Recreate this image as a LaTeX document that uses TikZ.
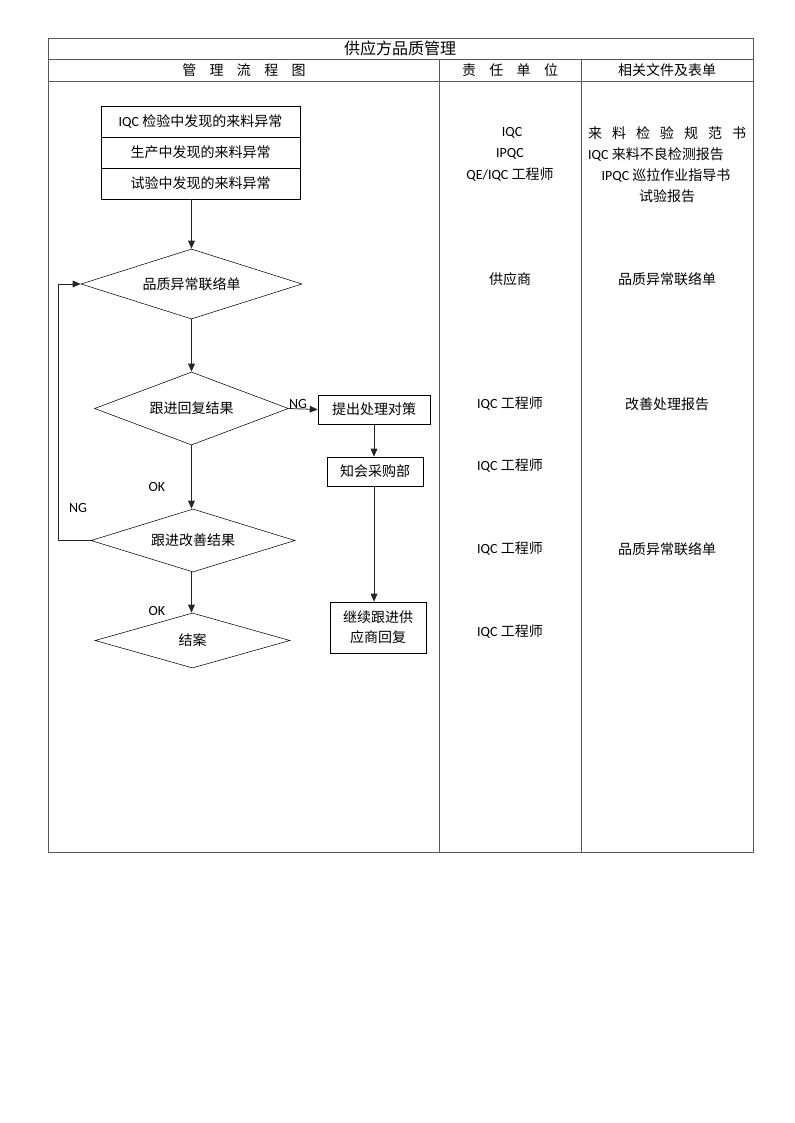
\documentclass[tikz,border=0pt]{standalone}
\usepackage{fontspec}
\setmainfont{Carlito}
\newfontfamily\cjk{Noto Sans CJK SC}
\usetikzlibrary{shapes.geometric,positioning,arrows.meta}

\tikzstyle{arrow} = [-{Triangle[length=6pt,width=5pt]},black!85,line width=0.6pt]
\tikzstyle{frame} = [draw=black!65,line width=0.6pt]
\tikzstyle{txt} = [inner sep=0pt,font=\fontsize{10.5}{13}\selectfont]
\tikzstyle{box} = [
        rectangle,
        draw=black,
        inner sep=0pt,
        align=center,
        font=\fontsize{10.5}{15}\selectfont
    ]
\tikzstyle{decision} = [
        diamond,
        draw=black,
        inner sep=0pt,
        font=\fontsize{10.5}{13}\selectfont
    ]

\begin{document}
\begin{tikzpicture}[x=0.75pt,y=-0.75pt]
        \useasboundingbox (0,0) rectangle (794,1123);
        % table
        \draw [frame] (48,38) rectangle (753,852);
        \draw [frame] (48,59) -- (753,59);
        \draw [frame] (48,81) -- (753,81);
        \draw [frame] (439,59) -- (439,852);
        \draw [frame] (581,59) -- (581,852);
        \node [txt, font=\fontsize{12}{14}\selectfont] (title) at (400,48) {\cjk 供应方品质管理};
        \node [txt] (head1) at (244,70) {\cjk 管\hspace{10pt}理\hspace{10pt}流\hspace{10pt}程\hspace{10pt}图};
        \node [txt] (head2) at (510,70) {\cjk 责\hspace{10pt}任\hspace{10pt}单\hspace{10pt}位};
        \node [txt] (head3) at (667,70) {\cjk 相关文件及表单};
        % flow chart
        \node [box, minimum width=149.25pt, minimum height=23.25pt] (src1) at (200.5,121.5) {IQC {\cjk 检验中发现的来料异常}};
        \node [box, minimum width=149.25pt, minimum height=23.25pt] (src2) at (200.5,152.5) {\cjk 生产中发现的来料异常};
        \node [box, minimum width=149.25pt, minimum height=23.25pt] (src3) at (200.5,183.5) {\cjk 试验中发现的来料异常};
        \node [decision, aspect=3.16, minimum width=165.75pt, minimum height=52.5pt] (notice) at (191.5,284) {\cjk 品质异常联络单};
        \node [decision, aspect=2.66, minimum width=145.5pt, minimum height=54.75pt] (reply) at (191.5,408.5) {\cjk 跟进回复结果};
        \node [decision, aspect=3.24, minimum width=153pt, minimum height=47.25pt] (improve) at (193,540.5) {\cjk 跟进改善结果};
        \node [decision, aspect=3.55, minimum width=146.25pt, minimum height=41.25pt] (close) at (192.5,640.5) {\cjk 结案};
        \node [box, minimum width=84pt, minimum height=21.75pt] (measure) at (374,409.5) {\cjk 提出处理对策};
        \node [box, minimum width=72pt, minimum height=21.75pt] (purchase) at (375,471.5) {\cjk 知会采购部};
        \node [box, minimum width=72pt, minimum height=38.25pt] (follow) at (378,627.5) {\cjk 继续跟进供\\\cjk 应商回复};
        \draw [arrow] (notice.north |- src3.south) -- (notice.north);
        \draw [arrow] (notice.south) -- (reply.north);
        \draw [arrow] (reply.east) -- (measure.west);
        \draw [arrow] (measure.south) -- (measure.south |- purchase.north);
        \draw [arrow] (measure.south |- purchase.south) -- (measure.south |- follow.north);
        \draw [arrow] (reply.south) -- (reply.south |- improve.north);
        \draw [arrow] (reply.south |- improve.south) -- (reply.south |- close.north);
        \draw [arrow] (improve.west) -- ++(-32,0) |- (notice.west);
        \node [txt] (okreply) at (157,487) {OK};
        \node [txt] (okimprove) at (157,611) {OK};
        \node [txt] (ngloop) at (78,508) {NG};
        \node [txt] (ngreply) at (298,404) {NG};
        % responsibility
        \node [txt] (r1) at (512,133) {IQC};
        \node [txt] (r2) at (510,154) {IPQC};
        \node [txt] (r3) at (510,175) {QE/IQC {\cjk 工程师}};
        \node [txt] (r4) at (510,279) {\cjk 供应商};
        \node [txt] (r5) at (510,404) {IQC {\cjk 工程师}};
        \node [txt] (r6) at (510,466) {IQC {\cjk 工程师}};
        \node [txt] (r7) at (510,549) {IQC {\cjk 工程师}};
        \node [txt] (r8) at (510,632) {IQC {\cjk 工程师}};
        % documents
        \node [txt] (f1) at (667,133) {\cjk 来\hspace{7.5pt}料\hspace{7.5pt}检\hspace{7.5pt}验\hspace{7.5pt}规\hspace{7.5pt}范\hspace{7.5pt}书};
        \node [txt] (f2) at (656,154) {IQC {\cjk 来料不良检测报告}};
        \node [txt] (f3) at (666,175) {IPQC {\cjk 巡拉作业指导书}};
        \node [txt] (f4) at (667,196) {\cjk 试验报告};
        \node [txt] (f5) at (667,279) {\cjk 品质异常联络单};
        \node [txt] (f6) at (667,404) {\cjk 改善处理报告};
        \node [txt] (f7) at (667,549) {\cjk 品质异常联络单};
    \end{tikzpicture}
\end{document}
